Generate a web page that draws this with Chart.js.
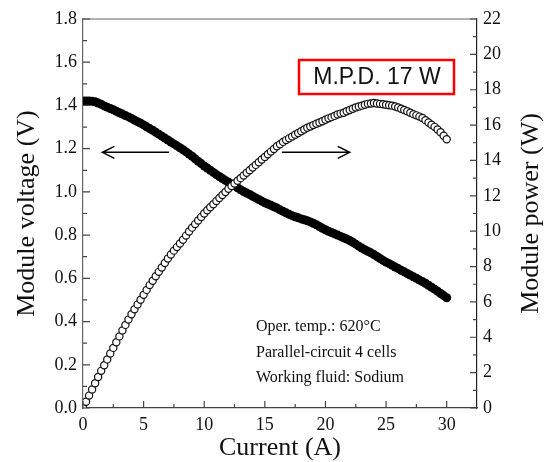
<!DOCTYPE html>
<html>
<head>
<meta charset="utf-8">
<script src="https://cdn.jsdelivr.net/npm/chart.js@4.4.0/dist/chart.umd.min.js"></script>
<style>
  body { margin: 0; background: #fff; }
  #wrap { width: 550px; height: 462px; }
</style>
</head>
<body>
<div id="wrap"><canvas id="ivChart" width="550" height="462"></canvas></div>
<script>
// current (A)
var current = [0, 0.25, 0.5, 0.75, 1, 1.25, 1.5, 1.75, 2, 2.25, 2.5, 2.75, 3, 3.25, 3.5, 3.75,
  4, 4.25, 4.5, 4.75, 5, 5.25, 5.5, 5.75, 6, 6.25, 6.5, 6.75, 7, 7.25, 7.5, 7.75,
  8, 8.25, 8.5, 8.75, 9, 9.25, 9.5, 9.75, 10, 10.25, 10.5, 10.75, 11, 11.25, 11.5, 11.75,
  12, 12.25, 12.5, 12.75, 13, 13.25, 13.5, 13.75, 14, 14.25, 14.5, 14.75, 15, 15.25, 15.5, 15.75,
  16, 16.25, 16.5, 16.75, 17, 17.25, 17.5, 17.75, 18, 18.25, 18.5, 18.75, 19, 19.25, 19.5, 19.75,
  20, 20.25, 20.5, 20.75, 21, 21.25, 21.5, 21.75, 22, 22.25, 22.5, 22.75, 23, 23.25, 23.5, 23.75,
  24, 24.25, 24.5, 24.75, 25, 25.25, 25.5, 25.75, 26, 26.25, 26.5, 26.75, 27, 27.25, 27.5, 27.75,
  28, 28.25, 28.5, 28.75, 29, 29.25, 29.5, 29.75, 30];

// module voltage (V)
var voltage = [1.420, 1.421, 1.420, 1.419, 1.417, 1.411, 1.405, 1.398, 1.392, 1.386, 1.380, 1.373, 1.366, 1.360, 1.353, 1.347,
  1.340, 1.332, 1.325, 1.318, 1.310, 1.301, 1.293, 1.285, 1.276, 1.267, 1.258, 1.249, 1.240, 1.231, 1.222, 1.213,
  1.204, 1.195, 1.185, 1.175, 1.165, 1.153, 1.142, 1.131, 1.120, 1.110, 1.100, 1.090, 1.080, 1.071, 1.062, 1.053,
  1.045, 1.036, 1.028, 1.019, 1.010, 1.002, 0.995, 0.988, 0.980, 0.972, 0.965, 0.957, 0.950, 0.944, 0.938, 0.931,
  0.925, 0.917, 0.910, 0.903, 0.896, 0.890, 0.885, 0.880, 0.875, 0.871, 0.866, 0.861, 0.855, 0.848, 0.840, 0.832,
  0.825, 0.818, 0.812, 0.806, 0.800, 0.794, 0.788, 0.782, 0.775, 0.767, 0.758, 0.749, 0.740, 0.732, 0.725, 0.718,
  0.710, 0.701, 0.692, 0.683, 0.675, 0.668, 0.660, 0.652, 0.645, 0.637, 0.630, 0.622, 0.615, 0.607, 0.600, 0.592,
  0.585, 0.577, 0.568, 0.559, 0.550, 0.540, 0.530, 0.520, 0.510];

// module power (W)
var power = [0, 0.35, 0.7, 1.05, 1.4, 1.75, 2.1, 2.42, 2.75, 3.08, 3.4, 3.72, 4.05, 4.38, 4.7, 5.0,
  5.3, 5.58, 5.85, 6.12, 6.4, 6.68, 6.95, 7.2, 7.45, 7.7, 7.95, 8.2, 8.45, 8.68, 8.9, 9.1,
  9.3, 9.52, 9.75, 9.98, 10.2, 10.4, 10.6, 10.8, 11.0, 11.18, 11.35, 11.52, 11.7, 11.88, 12.05, 12.22,
  12.4, 12.55, 12.7, 12.85, 13.0, 13.15, 13.3, 13.45, 13.6, 13.75, 13.9, 14.05, 14.2, 14.35, 14.5, 14.65,
  14.8, 14.92, 15.05, 15.15, 15.25, 15.35, 15.45, 15.55, 15.65, 15.75, 15.85, 15.92, 16.0, 16.08, 16.15, 16.22,
  16.3, 16.38, 16.45, 16.52, 16.6, 16.65, 16.7, 16.78, 16.85, 16.92, 17.0, 17.05, 17.1, 17.15, 17.2, 17.22,
  17.25, 17.22, 17.2, 17.18, 17.15, 17.12, 17.1, 17.05, 17.0, 16.92, 16.85, 16.78, 16.7, 16.62, 16.55, 16.48,
  16.4, 16.28, 16.15, 16.02, 15.9, 15.75, 15.6, 15.4, 15.2];

// ticks
var xTicks = [0, 5, 10, 15, 20, 25, 30];
var xMinorTicks = [2.5, 7.5, 12.5, 17.5, 22.5, 27.5];
var vTicks = [0, 0.2, 0.4, 0.6, 0.8, 1.0, 1.2, 1.4, 1.6, 1.8];
var vMinorTicks = [0.1, 0.3, 0.5, 0.7, 0.9, 1.1, 1.3, 1.5, 1.7];
var pTicks = [0, 2, 4, 6, 8, 10, 12, 14, 16, 18, 20, 22];
var pMinorTicks = [1, 3, 5, 7, 9, 11, 13, 15, 17, 19, 21];

// arrows: [x from, x to, voltage level]
var leftArrow = [7.1, 1.6, 1.183];
var rightArrow = [16.4, 22.0, 1.183];

var noteLines = ['Oper. temp.: 620\u00B0C', 'Parallel-circuit 4 cells', 'Working fluid: Sodium'];
var mpdText = 'M.P.D. 17 W';

var serif = "'Liberation Serif', 'Times New Roman', serif";
var axisColor = '#444';

var voltagePts = current.map(function (c, i) { return { x: c, y: voltage[i] }; });
var powerPts = current.map(function (c, i) { return { x: c, y: power[i] }; });

function setTicks(list) {
  return function (scale) {
    scale.ticks = list.map(function (v) { return { value: v }; });
  };
}

function drawArrow(ctx, x1, x2, y) {
  var dir = x2 > x1 ? 1 : -1;
  ctx.beginPath();
  ctx.moveTo(x1, y);
  ctx.lineTo(x2, y);
  ctx.moveTo(x2 - dir * 12, y - 6);
  ctx.lineTo(x2, y);
  ctx.lineTo(x2 - dir * 12, y + 6);
  ctx.stroke();
}

var extras = {
  id: 'extras',
  afterDraw: function (chart) {
    var ctx = chart.ctx;
    var a = chart.chartArea;
    var sx = chart.scales.x, sv = chart.scales.y, sp = chart.scales.y2;
    ctx.save();

    // top frame line
    ctx.strokeStyle = '#666';
    ctx.lineWidth = 1.2;
    ctx.beginPath();
    ctx.moveTo(a.left, a.top);
    ctx.lineTo(a.right, a.top);
    ctx.stroke();

    // inward ticks
    ctx.strokeStyle = axisColor;
    ctx.lineWidth = 1.2;
    ctx.beginPath();
    xTicks.forEach(function (v) { var p = sx.getPixelForValue(v); ctx.moveTo(p, a.bottom); ctx.lineTo(p, a.bottom - 7); });
    xMinorTicks.forEach(function (v) { var p = sx.getPixelForValue(v); ctx.moveTo(p, a.bottom); ctx.lineTo(p, a.bottom - 4); });
    vTicks.forEach(function (v) { var p = sv.getPixelForValue(v); ctx.moveTo(a.left, p); ctx.lineTo(a.left + 7, p); });
    vMinorTicks.forEach(function (v) { var p = sv.getPixelForValue(v); ctx.moveTo(a.left, p); ctx.lineTo(a.left + 4, p); });
    pTicks.forEach(function (v) { var p = sp.getPixelForValue(v); ctx.moveTo(a.right, p); ctx.lineTo(a.right - 7, p); });
    pMinorTicks.forEach(function (v) { var p = sp.getPixelForValue(v); ctx.moveTo(a.right, p); ctx.lineTo(a.right - 4, p); });
    ctx.stroke();

    // arrows
    ctx.strokeStyle = '#000';
    ctx.lineWidth = 1.5;
    [leftArrow, rightArrow].forEach(function (ar) {
      drawArrow(ctx, sx.getPixelForValue(ar[0]), sx.getPixelForValue(ar[1]), sv.getPixelForValue(ar[2]));
    });

    // axis titles
    ctx.fillStyle = '#111';
    ctx.font = '26px ' + serif;
    ctx.textAlign = 'center';
    ctx.textBaseline = 'middle';
    var midY = (a.top + a.bottom) / 2;
    ctx.save();
    ctx.translate(27, midY);
    ctx.rotate(-Math.PI / 2);
    ctx.fillText('Module voltage (V)', 0, 0);
    ctx.restore();
    ctx.save();
    ctx.translate(531, midY);
    ctx.rotate(-Math.PI / 2);
    ctx.fillText('Module power (W)', 0, 0);
    ctx.restore();
    ctx.textBaseline = 'alphabetic';
    ctx.fillText('Current (A)', (a.left + a.right) / 2, 455);

    // notes
    ctx.font = '16px ' + serif;
    ctx.textAlign = 'left';
    noteLines.forEach(function (t, i) { ctx.fillText(t, 256, 331 + i * 25.5); });

    // M.P.D. box
    ctx.strokeStyle = '#ff0000';
    ctx.lineWidth = 2.5;
    ctx.strokeRect(299, 60, 155, 34);
    ctx.fillStyle = '#111';
    ctx.font = "23px 'Liberation Sans', Arial, sans-serif";
    ctx.textAlign = 'center';
    ctx.textBaseline = 'middle';
    ctx.fillText(mpdText, 377, 78);

    ctx.restore();
  }
};

var tickFont = { family: serif, size: 18 };

new Chart(document.getElementById('ivChart'), {
  type: 'scatter',
  data: {
    datasets: [{
      label: 'Module power',
      data: powerPts,
      yAxisID: 'y2',
      order: 1,
      pointStyle: 'circle',
      pointRadius: 3.6,
      pointBackgroundColor: '#fff',
      pointBorderColor: '#111',
      pointBorderWidth: 1.2
    }, {
      label: 'Module voltage',
      data: voltagePts,
      yAxisID: 'y',
      order: 2,
      pointStyle: 'circle',
      pointRadius: 4.5,
      pointBackgroundColor: '#000',
      pointBorderColor: '#000',
      pointBorderWidth: 0
    }]
  },
  options: {
    responsive: false,
    animation: false,
    devicePixelRatio: 1,
    layout: { padding: { top: 19, left: 0, right: 0, bottom: 0 } },
    plugins: { legend: { display: false }, tooltip: { enabled: false } },
    scales: {
      x: {
        type: 'linear', min: 0, max: 32.5,
        afterBuildTicks: setTicks(xTicks),
        afterFit: function (s) { s.height = 54; },
        grid: { display: true, drawOnChartArea: false, drawTicks: false },
        border: { color: axisColor, width: 1.2 },
        ticks: { font: tickFont, color: '#111', padding: 6, maxRotation: 0 }
      },
      y: {
        type: 'linear', position: 'left', min: 0, max: 1.8,
        afterBuildTicks: setTicks(vTicks),
        afterFit: function (s) { s.width = 83; },
        grid: { display: true, drawOnChartArea: false, drawTicks: false },
        border: { color: '#666', width: 1.2 },
        ticks: { font: tickFont, color: '#111', padding: 6, callback: function (v) { return v.toFixed(1); } }
      },
      y2: {
        type: 'linear', position: 'right', min: 0, max: 22,
        afterBuildTicks: setTicks(pTicks),
        afterFit: function (s) { s.width = 73; },
        grid: { display: true, drawOnChartArea: false, drawTicks: false },
        border: { color: '#222', width: 1.2 },
        ticks: { font: tickFont, color: '#111', padding: 6 }
      }
    }
  },
  plugins: [extras]
});
</script>
</body>
</html>
